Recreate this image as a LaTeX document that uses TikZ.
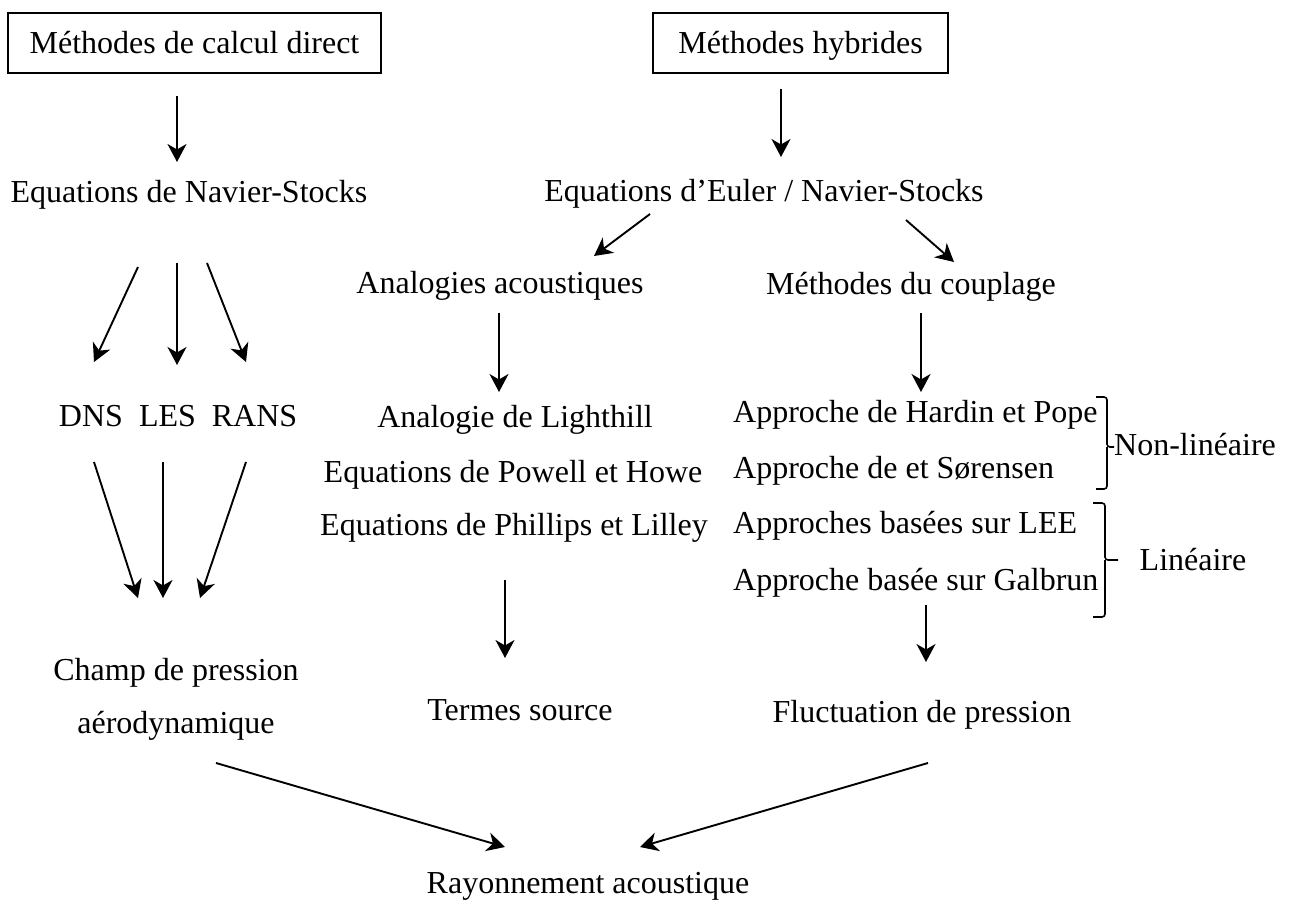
\documentclass[tikz,border=0pt]{standalone}
\usepackage{fontspec}
\setmainfont{Liberation Serif}
\usetikzlibrary{arrows.meta,calc}
\tikzset{
  lbl/.style={inner sep=0pt, anchor=base, text height=23pt, text depth=7pt, font=\fontsize{32}{38}\selectfont},
  lblw/.style={lbl, anchor=base west},
  boxnode/.style={draw, line width=1.6pt, inner sep=0pt, text height=22pt, text depth=0pt, font=\fontsize{32}{38}\selectfont},
  arr/.style={line width=1.9pt, -{Stealth[length=18pt,width=19pt,inset=5.5pt]}},
  brace/.style={line width=1.6pt, rounded corners=3pt}
}
\begin{document}
\begin{tikzpicture}[x=1pt,y=-1pt]
\useasboundingbox (0,0) rectangle (1294,909);
% boxes
\node[boxnode, minimum width=373pt, minimum height=60pt] (box1) at (194.5,43) {Méthodes de calcul direct};
\node[boxnode, minimum width=295pt, minimum height=60pt] (box2) at (800.5,43) {Méthodes hybrides};
% labels
\node[lbl] (ns) at (189,203) {Equations de Navier-Stocks};
\node[lbl] (eu) at (764,202) {Equations d’Euler / Navier-Stocks};
\node[lbl] (aa) at (500,294) {Analogies acoustiques};
\node[lbl] (mc) at (911,295) {Méthodes du couplage};
\node[lbl] (dns) at (91,426) {DNS};
\node[lbl] (les) at (167.5,426) {LES};
\node[lbl] (rans) at (254.5,426) {RANS};
\node[lbl] (li) at (515,428) {Analogie de Lighthill};
\node[lbl] (pw) at (513,482) {Equations de Powell et Howe};
\node[lbl] (ph) at (514,535) {Equations de Phillips et Lilley};
\node[lblw] (hp) at (733,422) {Approche de Hardin et Pope};
\node[lblw] (so) at (733,478) {Approche de et Sørensen};
\node[lblw] (lee) at (733,533) {Approches basées sur LEE};
\node[lblw] (ga) at (733,590) {Approche basée sur Galbrun};
\node[lblw] (nl) at (1114,455) {Non-linéaire};
\node[lbl] (lin) at (1193,570) {Linéaire};
\node[inner sep=0pt, align=center, font=\fontsize{32}{53}\selectfont] (cp) at (176,699) {Champ de pression\\aérodynamique};
\node[lbl] (ts) at (520,720) {Termes source};
\node[lbl] (fp) at (922,722) {Fluctuation de pression};
\node[lbl] (ra) at (588,893) {Rayonnement acoustique};
% arrows
\draw[arr] ($(box1.center)+(-17.5,53)$) -- ($(ns.center)+(-12,-33)$);
\draw[arr] ($(box2.center)+(-19.5,46)$) -- ($(eu.center)+(17,-37)$);
\draw[arr] ($(eu.center)+(-114,20)$) -- ($(aa.center)+(94,-30)$);
\draw[arr] ($(eu.center)+(142,26)$) -- ($(mc.center)+(43,-25)$);
\draw[arr] ($(ns.center)+(-51,72)$) -- ($(dns.center)+(3,-56)$);
\draw[arr] ($(ns.center)+(-12,68)$) -- ($(les.center)+(9.5,-53)$);
\draw[arr] ($(ns.center)+(18,68)$) -- ($(rans.center)+(-8.5,-56)$);
\draw[arr] ($(dns.center)+(3,44)$) -- ($(cp.center)+(-38,-101)$);
\draw[arr] ($(les.center)+(-4.5,44)$) -- ($(cp.center)+(-13,-101)$);
\draw[arr] ($(rans.center)+(-8.5,44)$) -- ($(cp.center)+(24,-101)$);
\draw[arr] ($(aa.center)+(-1,27)$) -- ($(li.center)+(-16,-28)$);
\draw[arr] ($(mc.center)+(10,26)$) -- ($(hp.base west)+(188,-30)$);
\draw[arr] ($(ph.center)+(-9,53)$) -- ($(ts.center)+(-15,-54)$);
\draw[arr] ($(ga.base west)+(193,15)$) -- ($(fp.center)+(4,-52)$);
\draw[arr] ($(cp.center)+(40,64)$) -- ($(ra.center)+(-83,-38)$);
\draw[arr] ($(fp.center)+(6,49)$) -- ($(ra.center)+(52,-38)$);
% braces
\draw[brace] (1096,397) -| (1107,447) -- (1114,447);
\draw[brace] (1096,489) -| (1107,447);
\draw[brace] (1093,503) -| (1105,560) -- (1118,560);
\draw[brace] (1093,617) -| (1105,560);
\end{tikzpicture}
\end{document}
